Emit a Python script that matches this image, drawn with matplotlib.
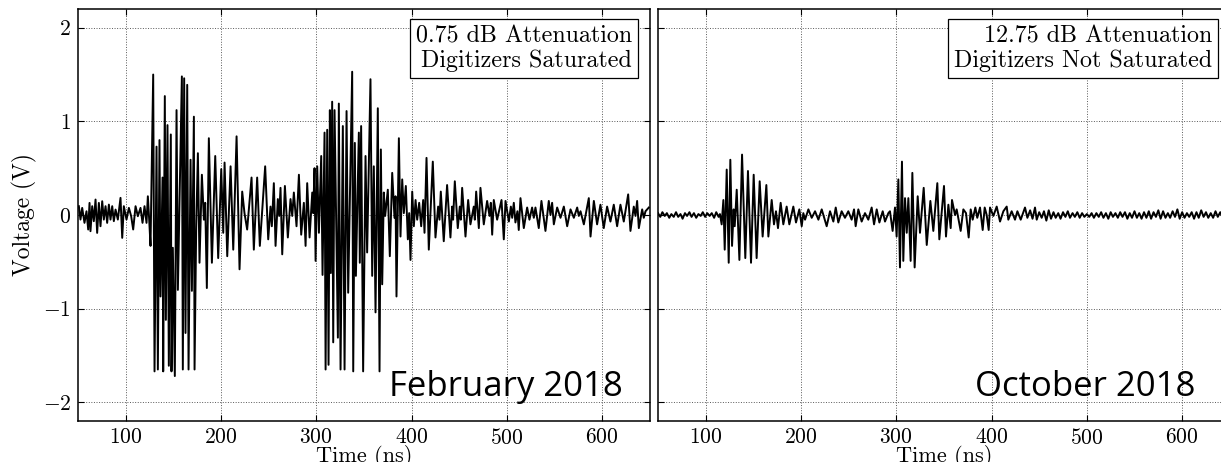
import numpy as np
import matplotlib
matplotlib.use("Agg")
import matplotlib.pyplot as plt

plt.rcParams["font.family"] = "serif"
plt.rcParams["font.serif"] = ["cmr10"]
plt.rcParams["mathtext.fontset"] = "cm"
plt.rcParams["axes.formatter.use_mathtext"] = True

# ---- February 2018 (0.75 dB attenuation, saturated) ----
feb_pre_t = [50.9, 52.6, 54.4, 56.8, 58.9, 60.7, 62.1, 63.1, 64.9, 66.6, 68.4, 70.1, 71.9,
             73.6, 75.4, 77.1, 78.9, 80.6, 82.4, 84.1, 85.9, 87.6, 89.4, 91.8, 94.6, 96.4,
             98.1, 100.9, 103.4, 105.8, 107.9, 110.4, 112.8, 115.6, 117.7, 119.8, 121.9, 123.3, 124.7]
feb_pre_v = [0.094, -0.049, 0.076, -0.084, 0.040, -0.155, 0.129, -0.173, 0.094, -0.066, 0.165, -0.191, 0.129,
             -0.12, 0.147, -0.049, 0.094, -0.084, 0.111, -0.049, 0.094, -0.066, 0.058, -0.049, 0.183, -0.244,
             0.094, -0.049, 0.076, -0.013, -0.155, 0.094, -0.013, 0.076, -0.084, 0.094, -0.084, 0.20, -0.049]

feb_burst_t = [126.1, 128.9, 130.3, 132.4, 133.8, 135.5, 136.6, 138.7, 139.4, 141.1, 142.2, 143.9, 145.3,
               147.4, 148.1, 149.5, 151.6, 153.4, 154.8, 159.0, 160.0, 161.4, 162.8, 164.6, 166.0, 168.1,
               169.5, 171.6, 172.3, 174.0, 175.8, 177.5, 180.0, 182.1, 183.5, 185.2, 187.3, 190.5, 194.0,
               197.1, 200.3, 202.4, 203.8, 206.6, 210.1, 212.9, 216.4, 219.5, 222.3, 224.7, 227.5, 232.1,
               234.5, 238.0, 240.8, 243.6, 246.4, 249.6, 252.0, 253.4, 255.5, 257.3, 259.7, 261.1, 262.5,
               264.3, 267.1, 270.2, 273.0, 274.8, 276.5, 279.3, 281.8, 284.2, 287.0, 288.8, 290.5, 293.0,
               295.8, 296.8, 298.2, 299.3, 301.0, 302.8, 305.2, 306.6, 308.7, 309.8, 311.5, 312.9, 314.3,
               315.3, 316.7, 317.8, 319.2, 322.7, 323.7, 325.5, 327.9, 329.7, 331.8, 333.5, 337.7, 338.8,
               340.5, 341.6, 344.7]
feb_burst_v = [-0.33, 1.50, -1.67, 0.73, -1.65, 0.80, -0.87, 0.40, -1.67, 1.27, -1.12, 0.96, -1.61,
               0.86, -1.67, -0.35, -1.72, 1.12, -0.80, 1.48, -1.65, 1.46, -1.26, 1.39, -1.65, 0.59,
               -0.81, 1.05, -1.65, -0.155, 0.66, -0.51, 0.43, -0.05, 0.13, -0.78, 0.82, -0.51, 0.63,
               -0.46, 0.49, -0.19, 0.56, -0.44, 0.52, -0.37, 0.84, -0.58, 0.25, 0.02, -0.155, 0.40,
               -0.37, 0.40, -0.33, 0.09, 0.52, -0.26, 0.09, -0.12, 0.34, -0.33, 0.17, -0.01, 0.29,
               -0.42, 0.31, -0.24, 0.17, -0.01, 0.24, -0.12, 0.43, -0.21, 0.13, -0.33, 0.34, -0.24,
               0.24, 0.02, 0.50, -0.49, 0.52, -0.19, 0.63, -0.64, 0.88, -1.65, 0.91, -1.60, 1.12,
               -0.62, 1.21, -1.36, 1.12, -1.31, 1.19, -1.65, 0.95, -1.65, 1.11, -0.83, 1.53, -1.67,
               0.77, -0.65, 0.88]

feb_echo_t = [345.7, 347.1, 349.2, 351.7, 353.4, 356.9, 358.7, 360.4, 362.2, 364.6, 366.4, 367.8, 369.2,
              370.9, 372.3, 375.1, 377.2, 379.7, 382.1, 383.2, 384.2, 386.7, 388.4, 390.2, 391.9, 394.0,
              396.1, 397.5, 398.9, 400.7, 402.4, 404.2, 405.9, 408.0, 410.1, 412.2, 413.6, 415.7, 418.1]
feb_echo_v = [-0.51, 0.95, -1.67, 0.63, -0.40, 1.45, -0.65, 0.52, -1.04, 1.14, -1.67, 0.70, -0.74,
              0.24, -0.01, 0.27, -0.44, 0.45, -0.03, 0.20, -0.87, 0.82, -0.23, 0.38, 0.02, 0.31,
              -0.26, 0.02, -0.48, 0.25, -0.12, 0.16, -0.05, 0.13, -0.12, 0.16, -0.19, 0.61, -0.37]

feb_tail_t = [422.3, 425.1, 427.9, 429.3, 430.7, 433.8, 437.3, 440.8, 442.6, 443.6, 445.4, 448.5, 450.6,
              451.7, 453.1, 456.6, 459.4, 461.8, 465.3, 466.4, 467.8, 470.6, 472.3, 475.8, 479.3, 481.8,
              483.2, 484.6, 486.3, 489.8, 494.4, 496.8, 498.6, 502.1, 504.2, 505.6, 507.3, 509.0, 511.1,
              512.5, 514.3, 517.8, 521.3, 523.7, 526.5, 528.3, 530.0, 533.5, 536.3, 540.5, 544.0, 545.8,
              547.5, 549.3, 552.8, 556.3, 559.8, 563.3, 566.8, 570.3, 573.8, 575.5, 577.3, 580.8, 586.0,
              587.8, 591.3, 594.7, 598.2, 601.7, 605.2, 608.7, 612.2, 615.7, 619.2, 622.7, 627.3, 629.7,
              633.2, 635.0, 636.7, 638.5, 642.0, 643.7, 645.5, 649.0]
feb_tail_v = [0.57, -0.24, 0.09, -0.05, 0.25, -0.28, 0.32, -0.24, 0.09, -0.05, 0.36, -0.14, 0.09,
              -0.05, 0.29, -0.23, 0.16, -0.10, 0.09, -0.05, 0.25, -0.14, 0.29, -0.10, 0.15, -0.01,
              0.13, -0.21, 0.16, -0.05, 0.16, -0.26, 0.15, -0.07, 0.09, -0.03, 0.13, -0.08, 0.04,
              -0.16, 0.18, -0.14, 0.08, -0.05, 0.08, -0.03, 0.08, -0.14, 0.15, -0.17, 0.15, 0.00,
              0.13, -0.10, 0.08, -0.03, 0.09, -0.12, 0.06, -0.03, 0.08, -0.01, 0.04, -0.10, 0.18,
              -0.23, 0.15, -0.10, 0.11, -0.14, 0.09, -0.07, 0.11, -0.12, 0.11, -0.07, 0.22, -0.17,
              0.09, -0.01, 0.15, -0.14, 0.06, -0.03, 0.04, 0.08]

# ---- October 2018 (12.75 dB attenuation, not saturated) ----
oct_pre_t = [50.0, 52.4, 54.6, 57.1, 59.3, 61.8, 64.0, 66.5, 68.9, 71.2, 73.6, 75.8, 78.3, 80.5, 83.0,
             85.2, 87.7, 90.1, 92.4, 94.8, 97.0, 99.5, 101.7, 104.2, 106.4, 108.9, 111.1, 113.6, 115.0]
oct_pre_v = [0.02, -0.02, 0.03, -0.01, 0.02, -0.03, 0.01, -0.02, 0.03, -0.02, 0.01, -0.04, 0.02, -0.01, 0.03,
             -0.02, 0.02, -0.03, 0.01, -0.01, 0.03, -0.02, 0.02, -0.01, 0.02, -0.03, 0.03, -0.02, 0.01]

oct_burst_t = [116.8, 118.6, 120.0, 122.1, 124.2, 125.9, 127.7, 129.4, 130.5, 132.6, 135.4, 138.2, 141.6,
               144.4, 147.6, 150.4, 153.5, 156.7, 159.8, 163.7, 165.8, 169.3, 171.7, 173.8, 175.9, 178.7,
               181.5, 185.0, 187.8, 192.0, 194.8, 198.3, 200.8, 202.5, 204.3, 207.8, 211.3, 214.8, 218.3,
               221.8, 227.0, 230.5, 234.0, 236.5, 239.2, 242.7, 246.2, 249.7, 253.2, 255.7, 257.4, 260.2,
               263.7, 267.2, 270.7, 274.2, 276.7, 279.5, 282.3, 285.8, 288.2, 291.7]
oct_burst_v = [-0.10, 0.16, -0.37, 0.485, -0.51, 0.59, -0.33, 0.06, -0.12, 0.27, -0.48, 0.645, -0.46,
               0.47, -0.51, 0.43, -0.46, 0.36, -0.23, 0.32, -0.23, 0.16, -0.10, 0.04, -0.14, 0.13,
               -0.10, 0.09, -0.10, 0.09, -0.08, 0.06, -0.12, 0.02, -0.05, 0.06, -0.03, 0.04, -0.05,
               0.06, -0.12, 0.04, -0.07, 0.08, -0.08, 0.04, -0.03, 0.04, -0.05, 0.06, -0.12, 0.06,
               -0.07, 0.02, -0.05, 0.08, -0.10, 0.06, -0.08, 0.04, -0.07, 0.02]

oct_echo_t = [293.4, 296.2, 298.7, 300.4, 302.2, 303.9, 306.0, 307.4, 309.2, 311.0, 312.7, 315.1, 316.9,
              319.3, 322.5, 324.9, 328.8, 332.0, 335.8, 338.9, 343.1, 345.2, 350.1, 352.2, 354.7, 357.1,
              358.5, 361.7, 363.4, 367.6, 370.4, 373.2, 376.0, 378.1, 380.2, 383.0, 385.0, 387.9, 390.7,
              392.8, 394.9, 397.0, 398.4, 401.9, 405.4, 408.9, 412.4, 415.9, 417.6, 421.1, 424.6, 427.1,
              430.6, 435.1, 437.6]
oct_echo_v = [0.04, -0.17, 0.08, -0.23, 0.38, -0.56, 0.57, -0.49, 0.18, -0.19, 0.18, -0.49, 0.45,
              -0.56, 0.20, -0.19, 0.29, -0.32, 0.15, -0.17, 0.34, -0.26, 0.31, -0.23, 0.11, -0.14,
              0.16, 0.00, 0.06, -0.17, 0.06, 0.02, -0.24, 0.06, -0.05, 0.08, -0.03, 0.08, -0.16,
              0.08, 0.00, -0.16, 0.08, -0.01, 0.09, -0.07, 0.04, 0.09, -0.05, 0.04, -0.05, 0.04,
              -0.05, 0.08, -0.03]

oct_tail_t = [440.5, 443.0, 445.6, 447.4, 450.0, 452.6, 455.0, 457.5, 460.0, 462.4, 465.0, 467.3, 470.0,
              472.4, 475.0, 477.5, 480.0, 482.3, 485.0, 487.4, 490.0, 492.5, 495.0, 497.4, 500.0, 502.5,
              505.0, 507.4, 510.0, 512.5, 515.0, 517.4, 520.0, 522.5, 525.0, 527.4, 530.0, 532.5, 535.0,
              537.4, 540.0, 542.5, 545.0, 547.4, 550.0, 552.5, 555.0, 557.4, 560.0, 562.5, 565.0, 567.4,
              570.0, 572.5, 575.0, 577.4, 580.0, 582.5, 585.0, 587.4, 590.0, 592.5, 595.0, 597.4, 600.0,
              602.5, 605.0, 607.4, 610.0, 612.5, 615.0, 617.4, 620.0, 622.5, 625.0, 627.4, 630.0, 632.5,
              635.0, 637.4, 640.0, 642.5, 645.0, 647.4, 650.0]
oct_tail_v = [0.05, -0.04, 0.08, -0.05, 0.03, -0.03, 0.04, -0.06, 0.05, -0.04, 0.03, -0.03, 0.02,
              -0.04, 0.03, -0.02, 0.04, -0.03, 0.02, -0.02, 0.03, -0.03, 0.02, -0.02, 0.01, -0.02,
              0.02, -0.03, 0.02, -0.02, 0.03, -0.03, 0.02, -0.04, 0.03, -0.02, 0.02, -0.03, 0.03,
              -0.02, 0.03, -0.04, 0.02, -0.03, 0.04, -0.03, 0.02, -0.04, 0.03, -0.03, 0.04, -0.04,
              0.03, -0.02, 0.05, -0.04, 0.04, -0.03, 0.02, -0.03, 0.04, -0.02, 0.06, -0.04, 0.03,
              -0.03, 0.02, -0.02, 0.03, -0.04, 0.03, -0.03, 0.05, -0.02, 0.03, -0.03, 0.02, -0.03,
              0.04, -0.02, 0.03, -0.03, 0.02, -0.03, 0.02]

panels = [
    (feb_pre_t + feb_burst_t + feb_echo_t + feb_tail_t,
     feb_pre_v + feb_burst_v + feb_echo_v + feb_tail_v,
     "0.75 dB Attenuation\nDigitizers Saturated", "February 2018", 0.953),
    (oct_pre_t + oct_burst_t + oct_echo_t + oct_tail_t,
     oct_pre_v + oct_burst_v + oct_echo_v + oct_tail_v,
     "12.75 dB Attenuation\nDigitizers Not Saturated", "October 2018", 0.939),
]

fig = plt.figure(figsize=(12.21, 4.62), dpi=100)
ax_w = 571.8 / 1221
ax_h = 412 / 462
axes = [fig.add_axes([78 / 1221, 41 / 462, ax_w, ax_h]),
        fig.add_axes([658 / 1221, 41 / 462, ax_w, ax_h])]

for i, (ax, (t, v, note, month, mx)) in enumerate(zip(axes, panels)):
    ax.plot(t, v, color="k", lw=1.4)
    ax.set_xlim(50, 650)
    ax.set_ylim(-2.2, 2.2)
    ax.set_xticks([100, 200, 300, 400, 500, 600])
    ax.set_yticks([-2, -1, 0, 1, 2])
    ax.grid(True, color="0.35", linestyle=":", linewidth=0.7)
    ax.tick_params(direction="in", top=True, right=True, length=4, width=0.8,
                   labelsize=15.5, pad=5)
    for s in ax.spines.values():
        s.set_linewidth(1.1)
    ax.set_xlabel("Time (ns)", fontsize=16, labelpad=-2)
    ax.text(0.969, 0.960, note, transform=ax.transAxes, ha="right", va="top",
            fontsize=17.3, linespacing=1.12,
            bbox=dict(boxstyle="square,pad=0.25", fc="white", ec="k", lw=0.9))
    ax.text(mx, 0.06, month, transform=ax.transAxes, ha="right", va="baseline",
            fontsize=25, family="Open Sans")
    if i == 0:
        ax.set_ylabel("Voltage (V)", fontsize=17, labelpad=4)
    else:
        ax.tick_params(labelleft=False)

fig.savefig("out.png", dpi=100)
